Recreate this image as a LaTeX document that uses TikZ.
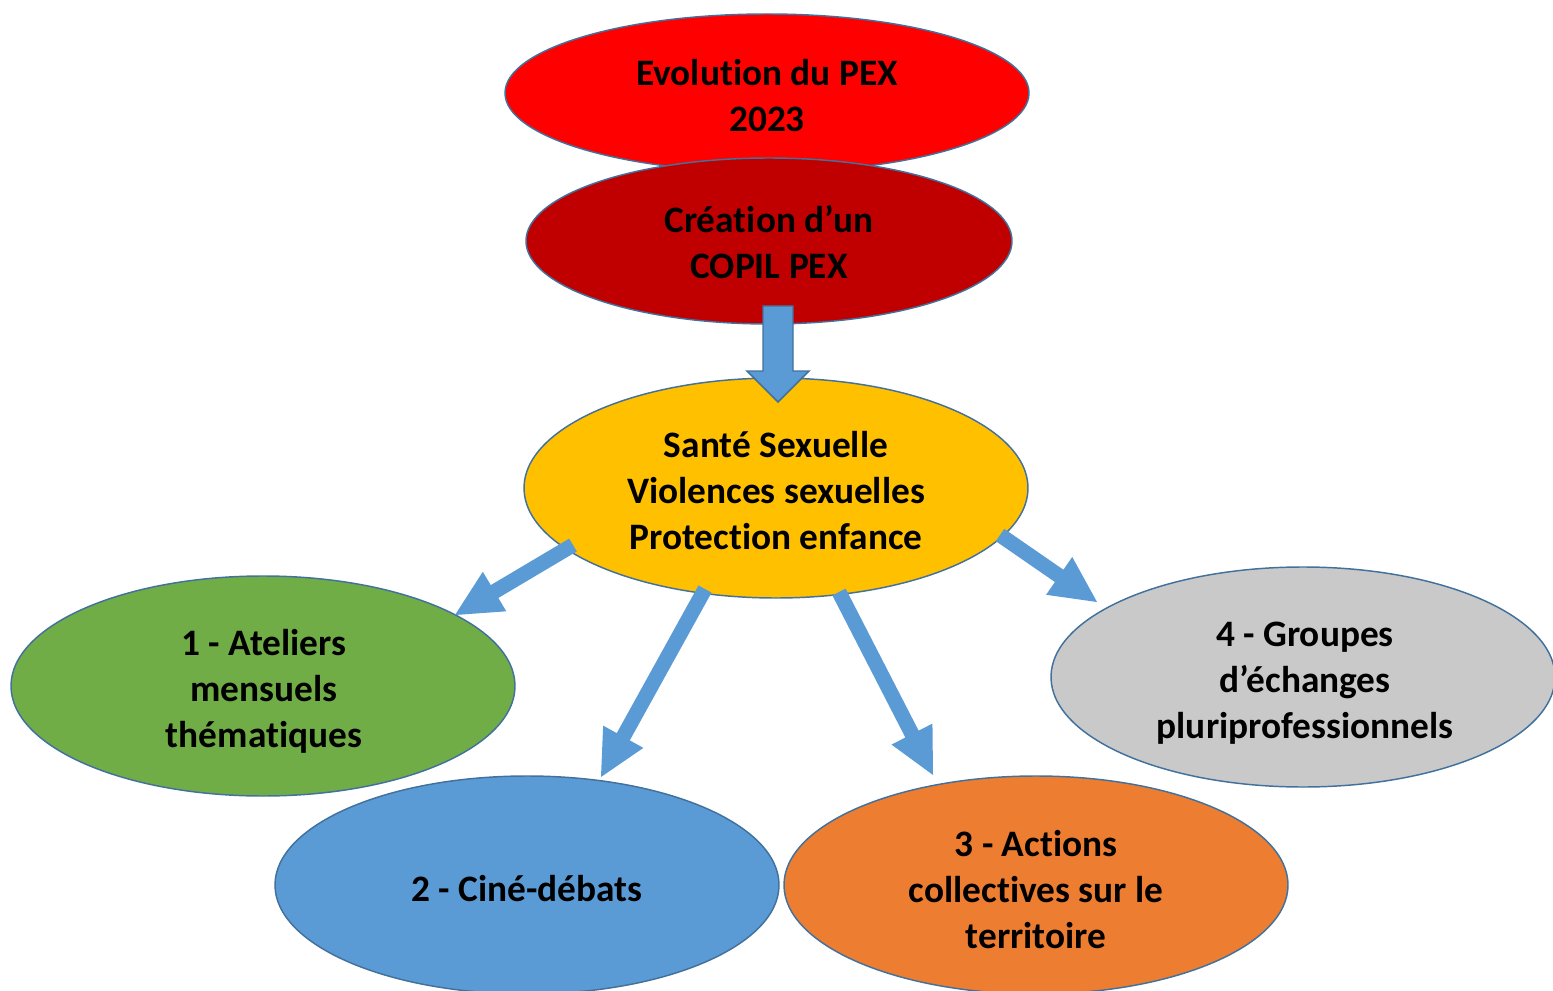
\documentclass[tikz,border=0pt]{standalone}
\usepackage{fontspec}
\setmainfont{Carlito}[RawFeature=-liga]
\usetikzlibrary{calc,shapes.geometric}
\definecolor{cRed}{HTML}{FF0000}
\definecolor{cDark}{HTML}{C00000}
\definecolor{cYel}{HTML}{FFC000}
\definecolor{cGreen}{HTML}{70AD47}
\definecolor{cBlue}{HTML}{5B9BD5}
\definecolor{cOrange}{HTML}{ED7D31}
\definecolor{cGray}{HTML}{C9C9C9}
\definecolor{cLine}{HTML}{41719C}
\newcommand\blockarrow[6]{%
  \coordinate (hb) at ($(#3)!#6!(#2)$);
  \path[#1] ($(#2)!#4!90:(#3)$) -- ($(hb)!#4!90:(#3)$) -- ($(hb)!#5!90:(#3)$) -- (#3)
    -- ($(hb)!#5!-90:(#3)$) -- ($(hb)!#4!-90:(#3)$) -- ($(#2)!#4!-90:(#3)$) -- cycle;}
\tikzset{
  bubble/.style={ellipse, draw=cLine, line width=1.1pt, inner sep=0pt},
  lbl/.style={align=center, inner sep=0pt, font=\fontsize{28}{34.5}\selectfont\bfseries, text=black},
  big/.style={minimum width=378pt, minimum height=165pt},
  flat/.style={fill=cBlue},
  framed/.style={fill=cBlue, draw=cLine, line width=1.1pt, line join=miter}
}
\begin{document}
\begin{tikzpicture}[x=0.75pt,y=-0.75pt]
\useasboundingbox (0,0) rectangle (1553,991);
\node[bubble, fill=cRed, minimum width=393pt, minimum height=118.5pt] (evo) at (767,93) {};
\node[lbl] (evo-t) at ($(evo.center)+(0,3)$) {Evolution du PEX\\2023};
\node[bubble, fill=cDark, minimum width=364.5pt, minimum height=124.5pt] (copil) at (769,241) {};
\node[lbl] (copil-t) at ($(copil.center)+(0,1)$) {Création d’un\\COPIL PEX};
\node[bubble, big, fill=cYel] (sante) at (776,488) {};
\node[lbl] (sante-t) at ($(sante.center)+(0,3)$) {Santé Sexuelle\\Violences sexuelles\\Protection enfance};
\node[bubble, big, fill=cGreen] (ateliers) at (263,686) {};
\node[lbl] (ateliers-t) at ($(ateliers.center)+(1,5)$) {1 - Ateliers\\mensuels\\thématiques};
\node[bubble, big, fill=cBlue, minimum height=163.5pt] (cine) at (527,885) {};
\node[lbl] (cine-t) at ($(cine.center)+(0,4)$) {2 - Ciné-débats};
\node[bubble, big, fill=cOrange, minimum height=163.5pt] (actions) at (1036,885) {};
\node[lbl] (actions-t) at ($(actions.center)+(0,5)$) {3 - Actions\\collectives sur le\\territoire};
\node[bubble, big, fill=cGray] (groupes) at (1303,677) {};
\node[lbl] (groupes-t) at ($(groupes.center)+(2,6)$) {4 - Groupes\\d’échanges\\pluriprofessionnels};
% connectors
\coordinate (v0) at (778,306);
\coordinate (v1) at (778,402);
\blockarrow{framed}{v0}{v1}{11.25pt}{23.25pt}{23.25pt}
\coordinate (s1) at (573,545);
\coordinate (t1) at (455,615);
\blockarrow{flat}{s1}{t1}{5.6pt}{17.25pt}{34.5pt}
\coordinate (s2) at (705,589);
\coordinate (t2) at (601,777);
\blockarrow{flat}{s2}{t2}{5.6pt}{17.25pt}{34.5pt}
\coordinate (s3) at (839,592);
\coordinate (t3) at (933,775);
\blockarrow{flat}{s3}{t3}{5.6pt}{17.25pt}{34.5pt}
\coordinate (s4) at (1000,535);
\coordinate (t4) at (1097,602);
\blockarrow{flat}{s4}{t4}{5.6pt}{17.25pt}{34.5pt}
\end{tikzpicture}
\end{document}
